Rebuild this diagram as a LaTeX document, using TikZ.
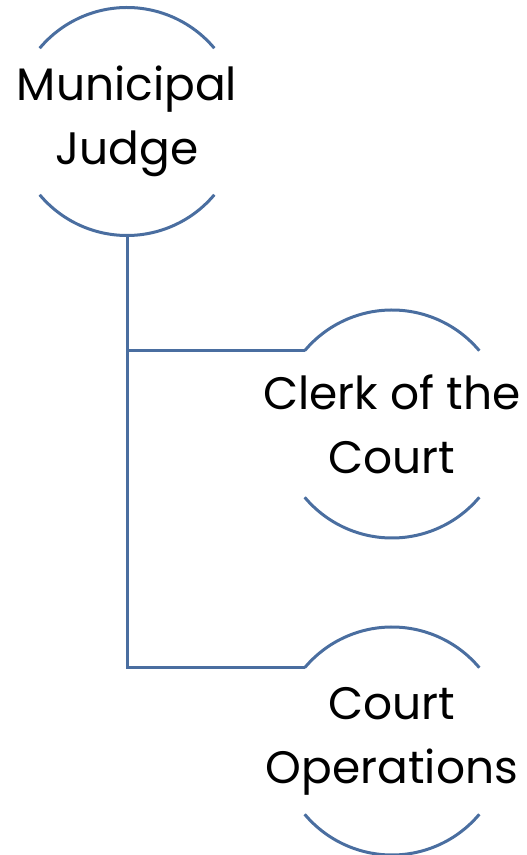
\documentclass[tikz,border=0pt]{standalone}
\usepackage{fontspec}
\setmainfont{Poppins}
\usepackage{tikz}
\usetikzlibrary{positioning}
\definecolor{ringblue}{RGB}{74,110,160}
\tikzset{
  unit/.style  = {inner sep=0pt, align=center,
                  font=\fontsize{45.5}{64}\selectfont},
  ring/.style  = {draw=ringblue, line width=3pt},
  wire/.style  = {draw=ringblue, line width=3pt},
}

\begin{document}
\begin{tikzpicture}[x=1pt,y=1pt]
  \useasboundingbox (0,0) rectangle (527,855);
  \node[unit] (judge) at (127,733.5) {Municipal\\Judge};
  \node[unit] (clerk) at (392,431) {Clerk of the\\Court};
  \node[unit] (ops)   at (392,114) {Court\\Operations};
  \foreach \n in {judge,clerk,ops}{
    \draw[ring] (\n.center) ++(40:114pt) arc[start angle=40, end angle=140, radius=114pt];
    \draw[ring] (\n.center) ++(220:114pt) arc[start angle=220, end angle=320, radius=114pt];
  }
  \coordinate (judge-out) at ([shift={(270:114pt)}]judge.center);
  \coordinate (clerk-in)  at ([shift={(140:114pt)}]clerk.center);
  \coordinate (ops-in)    at ([shift={(140:114pt)}]ops.center);
  \draw[wire] (judge-out) |- (clerk-in);
  \draw[wire] (judge-out) |- (ops-in);
\end{tikzpicture}
\end{document}
